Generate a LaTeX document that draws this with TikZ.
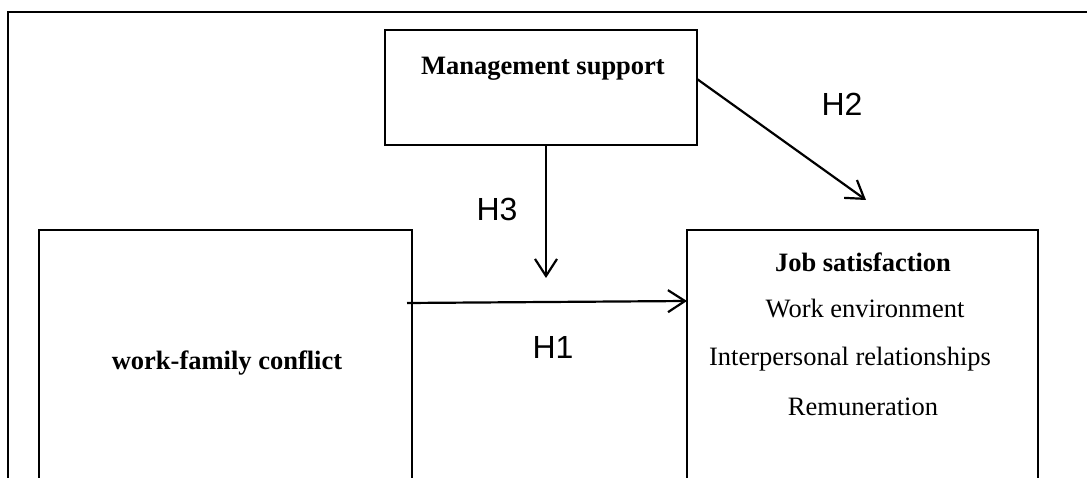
\documentclass[tikz,border=0pt]{standalone}
\usepackage{fontspec}
\setmainfont{Liberation Serif}
\newfontfamily\arialfont{Liberation Sans}
\usetikzlibrary{arrows.meta}
\tikzset{
  boxframe/.style={draw=black, line width=2.4pt, inner sep=0pt},
  boxtext/.style={font=\fontsize{26.5}{30}\selectfont, anchor=base, inner sep=0pt},
  boldtext/.style={boxtext, font=\fontsize{26.5}{30}\selectfont\bfseries},
  hlabel/.style={font=\arialfont\fontsize{32}{36}\selectfont, anchor=base, inner sep=0pt},
  link/.style={line width=2.2pt, -{Straight Barb[length=17pt,width=22pt,line width=2.2pt]}}
}
\begin{document}
\begin{tikzpicture}[x=1pt,y=1pt]
\useasboundingbox (0,0) rectangle (1087,-478);
\clip (0,0) rectangle (1087,-478);
% outer frame (top and left only)
\draw[line width=2.9pt] (8,-520) -- (8,-12) -- (1100,-12);
% boxes
\node[boxframe, line width=1.8pt, minimum width=312pt, minimum height=115pt] (ms) at (541,-87.5) {};
\node[boxframe, minimum width=373pt, minimum height=300pt] (wfc) at (225.5,-380) {};
\node[boxframe, minimum width=351pt, minimum height=300pt] (js) at (862.5,-380) {};
% texts
\node[boldtext] (mst) at (543,-75) {Management support};
\node[boldtext] (wfct) at (227,-370) {work-family conflict};
\node[boldtext] (jst) at (863,-272) {Job satisfaction};
\node[boxtext] (js1) at (865,-318) {Work environment};
\node[boxtext] (js2) at (850,-365) {Interpersonal relationships};
\node[boxtext] (js3) at (863,-415) {Remuneration};
\node[hlabel] (h2) at (842,-116) {H2};
\node[hlabel] (h3) at (497,-221) {H3};
\node[hlabel] (h1) at (553,-359) {H1};
% connectors
\coordinate (h1s) at (407,-303);
\coordinate (h1e) at (687,-301);
\coordinate (h3s) at (546,-145);
\coordinate (h3e) at (546,-278);
\coordinate (h2s) at (697,-79);
\coordinate (h2e) at (866,-200);
\draw[link] (h1s) -- (h1e);
\draw[link] (h3s) -- (h3e);
\draw[link] (h2s) -- (h2e);
\end{tikzpicture}
\end{document}
